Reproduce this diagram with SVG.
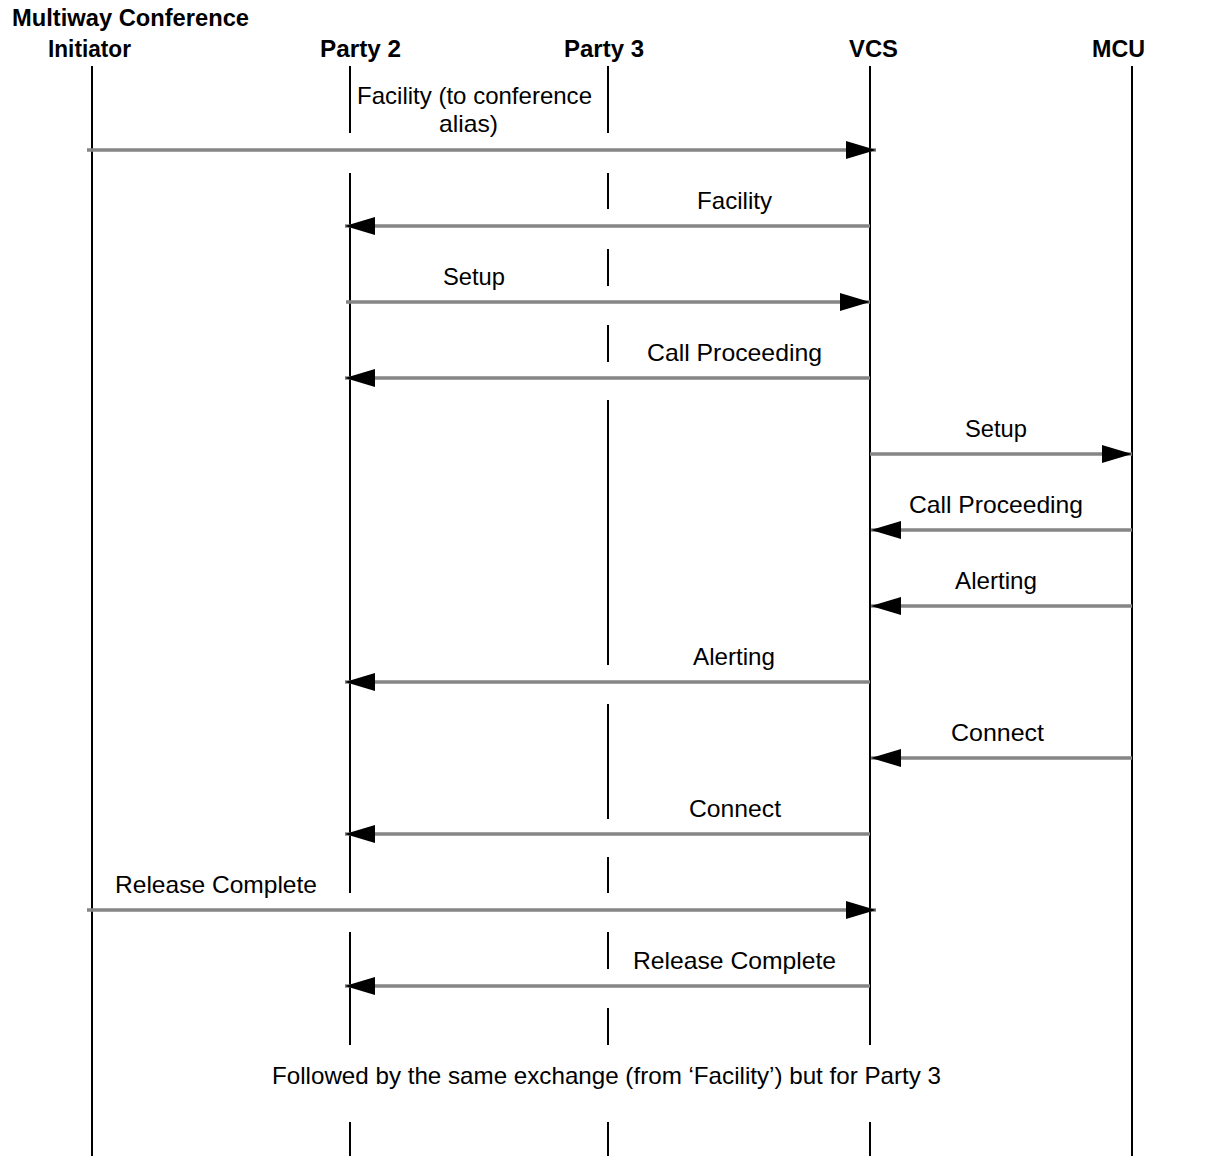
<svg xmlns="http://www.w3.org/2000/svg" width="1209" height="1156" viewBox="0 0 1209 1156">
<defs>
<marker id="ah" viewBox="0 0 30 18" refX="30" refY="9" markerWidth="30" markerHeight="18" markerUnits="userSpaceOnUse" orient="auto">
<path d="M0,0 L30,9 L0,18 Z" fill="#000"/>
</marker>
<style>
.hd{font-family:"Liberation Sans",Arial,sans-serif;font-size:23.5px;font-weight:bold;fill:#000;text-anchor:middle}
.lb{font-family:"Liberation Sans",Arial,sans-serif;font-size:24px;fill:#000;text-anchor:middle}
.ll{stroke:#000;stroke-width:2;fill:none}
.msg{stroke:#858585;stroke-width:3.5;fill:none;marker-end:url(#ah)}
</style>
</defs>
<rect width="1209" height="1156" fill="#fff"/>
<g id="initiator">
<text class="hd" x="130.5" y="26" textLength="237" lengthAdjust="spacingAndGlyphs">Multiway Conference</text>
<text class="hd" x="89.5" y="57" textLength="83" lengthAdjust="spacingAndGlyphs">Initiator</text>
<line class="ll" x1="92" y1="66" x2="92" y2="1156"/>
</g>
<g id="party2">
<text class="hd" x="360.5" y="57" textLength="81" lengthAdjust="spacingAndGlyphs">Party 2</text>
<path class="ll" d="M350,66V133M350,173V893M350,932V1045M350,1122V1156"/>
</g>
<g id="party3">
<text class="hd" x="604" y="57" textLength="80" lengthAdjust="spacingAndGlyphs">Party 3</text>
<path class="ll" d="M608,66V133M608,173V209M608,249V286M608,325V362M608,400V665M608,704V819M608,857V893M608,932V969M608,1008V1045M608,1122V1156"/>
</g>
<g id="vcs">
<text class="hd" x="873.5" y="57" textLength="49" lengthAdjust="spacingAndGlyphs">VCS</text>
<path class="ll" d="M870,66V1045M870,1122V1156"/>
</g>
<g id="mcu">
<text class="hd" x="1118.5" y="57" textLength="53" lengthAdjust="spacingAndGlyphs">MCU</text>
<line class="ll" x1="1132" y1="66" x2="1132" y2="1156"/>
</g>
<g id="connectors">
<line class="msg" x1="87" y1="150" x2="876" y2="150"/>
<line class="msg" x1="870" y1="226" x2="345" y2="226"/>
<line class="msg" x1="346" y1="302" x2="870" y2="302"/>
<line class="msg" x1="870" y1="378" x2="345" y2="378"/>
<line class="msg" x1="870" y1="454" x2="1132" y2="454"/>
<line class="msg" x1="1132" y1="530" x2="871" y2="530"/>
<line class="msg" x1="1132" y1="606" x2="871" y2="606"/>
<line class="msg" x1="870" y1="682" x2="345" y2="682"/>
<line class="msg" x1="1132" y1="758" x2="871" y2="758"/>
<line class="msg" x1="870" y1="834" x2="345" y2="834"/>
<line class="msg" x1="87" y1="910" x2="876" y2="910"/>
<line class="msg" x1="870" y1="986" x2="345" y2="986"/>
</g>
<g id="labels">
<text class="lb" x="474.5" y="104" textLength="235" lengthAdjust="spacingAndGlyphs">Facility (to conference</text>
<text class="lb" x="468.5" y="132" textLength="59" lengthAdjust="spacingAndGlyphs">alias)</text>
<text class="lb" x="734.5" y="209" textLength="75" lengthAdjust="spacingAndGlyphs">Facility</text>
<text class="lb" x="474" y="285" textLength="62" lengthAdjust="spacingAndGlyphs">Setup</text>
<text class="lb" x="734.5" y="361" textLength="175" lengthAdjust="spacingAndGlyphs">Call Proceeding</text>
<text class="lb" x="996" y="437" textLength="62" lengthAdjust="spacingAndGlyphs">Setup</text>
<text class="lb" x="996" y="513" textLength="174" lengthAdjust="spacingAndGlyphs">Call Proceeding</text>
<text class="lb" x="996" y="589" textLength="82" lengthAdjust="spacingAndGlyphs">Alerting</text>
<text class="lb" x="734" y="665" textLength="82" lengthAdjust="spacingAndGlyphs">Alerting</text>
<text class="lb" x="997.5" y="741" textLength="93" lengthAdjust="spacingAndGlyphs">Connect</text>
<text class="lb" x="735" y="817" textLength="92" lengthAdjust="spacingAndGlyphs">Connect</text>
<text class="lb" x="216" y="893" textLength="202" lengthAdjust="spacingAndGlyphs">Release Complete</text>
<text class="lb" x="734.5" y="969" textLength="203" lengthAdjust="spacingAndGlyphs">Release Complete</text>
<text class="lb" x="606.5" y="1084" textLength="669" lengthAdjust="spacingAndGlyphs">Followed by the same exchange (from ‘Facility’) but for Party 3</text>
</g>
</svg>
